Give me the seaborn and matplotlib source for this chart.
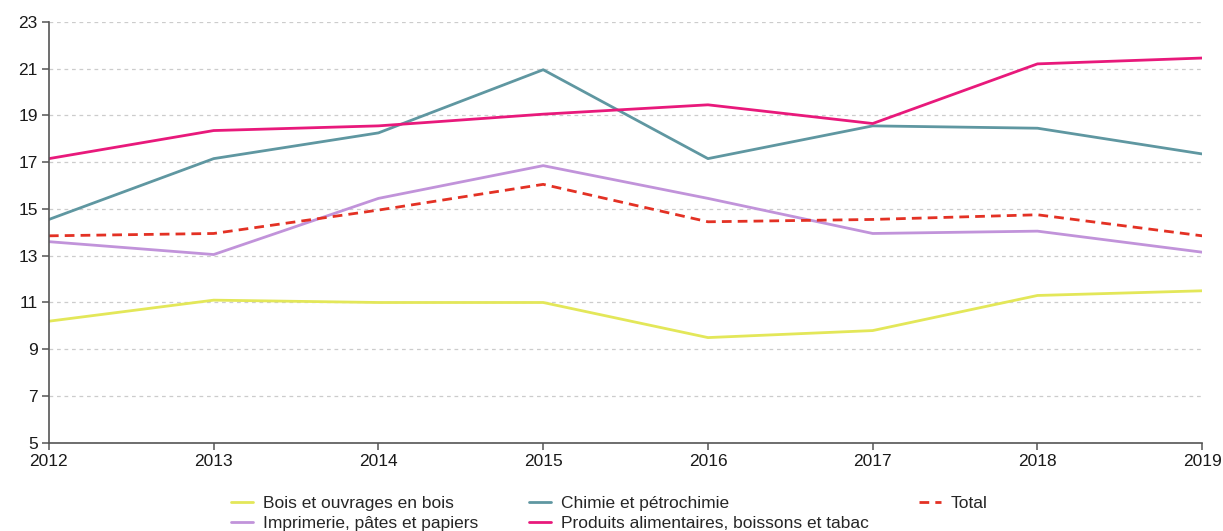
import numpy as np
import pandas as pd
import matplotlib
matplotlib.use("Agg")
import matplotlib.pyplot as plt
import seaborn as sns

# Values
years = [2012, 2013, 2014, 2015, 2016, 2017, 2018, 2019]
bois = [10.2, 11.1, 11.0, 11.0, 9.5, 9.8, 11.3, 11.5]
chimie = [14.55, 17.15, 18.25, 20.95, 17.15, 18.55, 18.45, 17.35]
imprimerie = [13.6, 13.05, 15.45, 16.85, 15.45, 13.95, 14.05, 13.15]
produits = [17.15, 18.35, 18.55, 19.05, 19.45, 18.65, 21.2, 21.45]
total = [13.85, 13.95, 14.95, 16.05, 14.45, 14.55, 14.75, 13.85]

series = {
    "Bois et ouvrages en bois": bois,
    "Chimie et pétrochimie": chimie,
    "Imprimerie, pâtes et papiers": imprimerie,
    "Produits alimentaires, boissons et tabac": produits,
    "Total": total,
}
colors = {
    "Bois et ouvrages en bois": "#e3e759",
    "Chimie et pétrochimie": "#5f97a1",
    "Imprimerie, pâtes et papiers": "#c193da",
    "Produits alimentaires, boissons et tabac": "#e8197b",
    "Total": "#e33124",
}

df = pd.DataFrame(
    [(name, y, v) for name, vals in series.items() for y, v in zip(years, vals)],
    columns=["serie", "annee", "valeur"],
)

sns.set_theme(style="white")
plt.rcParams["font.family"] = ["Liberation Sans", "DejaVu Sans"]

fig = plt.figure(figsize=(12.23, 5.31), dpi=100)
ax = fig.add_axes([0.040, 0.166, 0.943, 0.793])

dashes = {k: "" for k in series}
dashes["Total"] = (3.5, 2.2)
sns.lineplot(data=df, x="annee", y="valeur", hue="serie", style="serie",
             palette=colors, dashes=dashes, linewidth=2, ax=ax, legend=False)

ax.set_xlim(2012, 2019)
ax.set_ylim(5, 23)
ax.set_xticks(years)
ax.set_yticks(np.arange(5, 24, 2))
ax.set_xlabel("")
ax.set_ylabel("")
ax.yaxis.grid(True, linestyle=(0, (3, 3)), color="#cccccc", linewidth=0.9)
ax.set_axisbelow(True)
for s in ["top", "right"]:
    ax.spines[s].set_visible(False)
for s in ["left", "bottom"]:
    ax.spines[s].set_color("#555555")
    ax.spines[s].set_linewidth(1.2)
ax.tick_params(axis="both", direction="out", length=5, width=1.1, color="#555555",
               labelsize=12.5, labelcolor="#1a1a1a", pad=3, left=True, bottom=True)

# legend: 3 columns, filled column-wise
order = ["Bois et ouvrages en bois", "Imprimerie, pâtes et papiers",
         "Chimie et pétrochimie", "Produits alimentaires, boissons et tabac", "Total"]
handles = []
for name in order:
    ls = (0, (3.5, 2.2)) if name == "Total" else "-"
    handles.append(plt.Line2D([], [], color=colors[name], linewidth=2, linestyle=ls))
fig.legend(handles, order, ncol=3, loc="lower left", bbox_to_anchor=(0.176, -0.03),
           frameon=False, fontsize=12.5, handlelength=1.3, handletextpad=0.55,
           columnspacing=2.9, labelspacing=0.3)

fig.savefig("out.png", dpi=100)
